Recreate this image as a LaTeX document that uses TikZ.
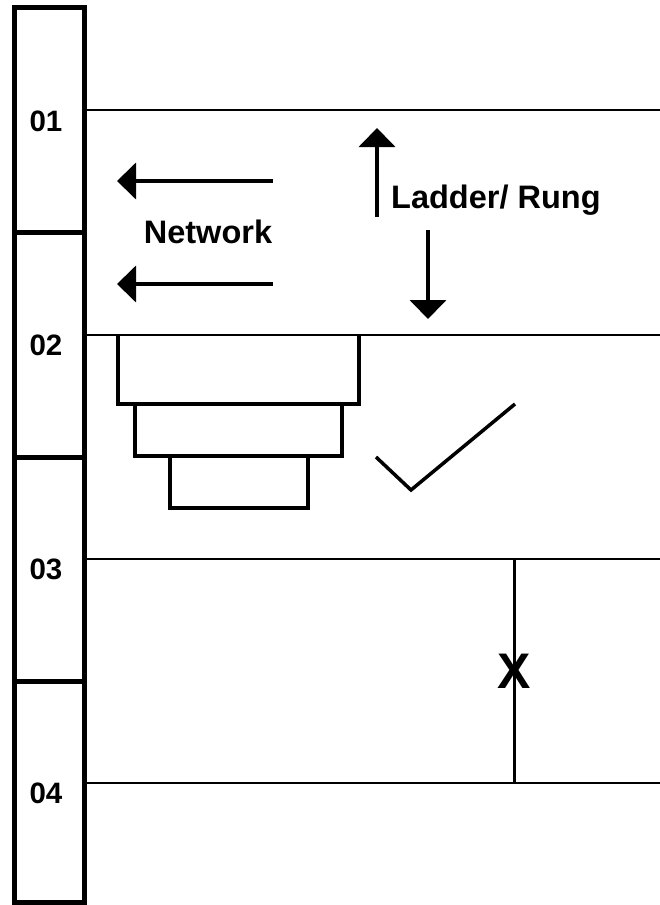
\documentclass[tikz,border=0pt]{standalone}
\usepackage{fontspec}
\setmainfont{Liberation Sans}
\usetikzlibrary{arrows.meta}
\tikzset{
  barline/.style={line width=5pt},
  rungline/.style={line width=2.5pt},
  stackbox/.style={line width=4pt, line join=miter},
  netarrow/.style={line width=4pt, -{Triangle[length=19pt,width=36pt]}},
  numlabel/.style={font=\bfseries\fontsize{29.5}{34}\selectfont, anchor=base, inner sep=0pt},
  biglabel/.style={font=\bfseries\fontsize{32.5}{38}\selectfont, anchor=base, inner sep=0pt},
}
\begin{document}
\begin{tikzpicture}[x=1pt,y=-1pt]
  \useasboundingbox (0,0) rectangle (660,905);
  \fill[white] (0,0) rectangle (660,905);

  % rungs
  \foreach \y/\n in {110/1,335/2,559/3,783/4} {
    \coordinate (rl\n) at (84,\y);
    \coordinate (rr\n) at (660,\y);
    \draw[rungline] (rl\n) -- (rr\n);
  }

  % address column on the left
  \draw[barline] (14.5,7.5) rectangle (84,902.5);
  \foreach \y/\n in {232/1,457/2,681/3} {
    \coordinate (dl\n) at (14.5,\y);
    \coordinate (dr\n) at (84,\y);
    \draw[barline] (dl\n) -- (dr\n);
  }
  \node[numlabel] (n01) at (46,131) {01};
  \node[numlabel] (n02) at (46,355) {02};
  \node[numlabel] (n03) at (46,579) {03};
  \node[numlabel] (n04) at (46,803) {04};

  % network arrows
  \coordinate (na1s) at (273,181);
  \coordinate (na1e) at (117,181);
  \coordinate (na2s) at (273,284);
  \coordinate (na2e) at (117,284);
  \draw[netarrow] (na1s) -- (na1e);
  \draw[netarrow] (na2s) -- (na2e);
  \node[biglabel] (net) at (208,243) {Network};

  % ladder / rung arrows
  \coordinate (ua1) at (377,217);
  \coordinate (ua2) at (377,128);
  \coordinate (da1) at (428,230);
  \coordinate (da2) at (428,319);
  \draw[netarrow] (ua1) -- (ua2);
  \draw[netarrow] (da1) -- (da2);
  \node[biglabel, anchor=base west] (lad) at (391,208) {Ladder/ Rung};

  % stacked blocks
  \draw[stackbox] (118,335) -- (118,404) -- (359,404) -- (359,335);
  \draw[stackbox] (135,404) -- (135,456) -- (342,456) -- (342,404);
  \draw[stackbox] (170,456) -- (170,508) -- (308,508) -- (308,456);

  % check mark
  \coordinate (c1) at (376,457);
  \coordinate (c2) at (411,490);
  \coordinate (c3) at (515,404);
  \draw[line width=3.5pt] (c1) -- (c2) -- (c3);

  % vertical link with X
  \coordinate (vt) at (514,559);
  \coordinate (vb) at (514,784);
  \draw[line width=3pt] (vt) -- (vb);
  \node[biglabel, font=\bfseries\fontsize{50}{56}\selectfont] (xmark) at (514,688) {X};
\end{tikzpicture}
\end{document}
